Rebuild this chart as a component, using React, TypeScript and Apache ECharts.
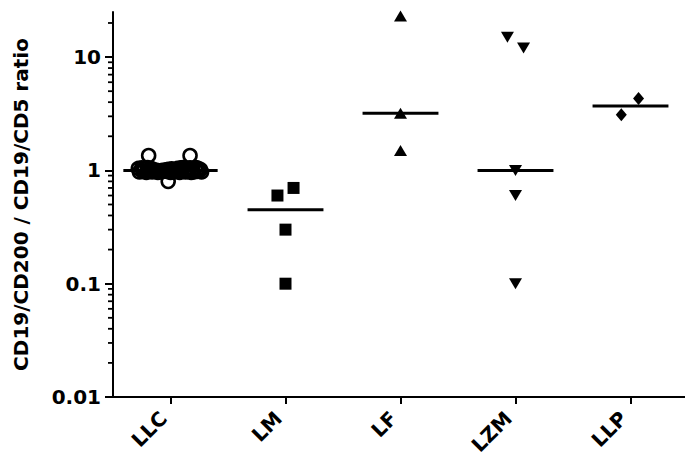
import React, { useEffect, useRef } from "react";
import * as echarts from "echarts";

const categories = ["LLC", "LM", "LF", "LZM", "LLP"];

// LLC group (values near 1, many overlapping open circles)
const llcValues = [
  1.04, 1.05, 1.03, 1.06, 1.04, 1.02, 1.0, 0.99, 1.0, 1.01, 1.02, 1.03, 1.0, 1.04, 1.05, 1.06, 1.04, 1.05, 1.03, 1.06, 1.04, 1.02,
  0.97, 0.98, 0.96, 0.99, 0.97, 0.98, 0.96, 0.97, 0.99, 0.98, 0.96, 0.97, 0.98, 0.96, 0.99, 0.97, 0.98, 0.96, 0.97, 0.98, 0.99, 0.97,
  1.35, 1.35, 0.8,
];
const llcJitter = [
  -0.28, -0.25, -0.23, -0.2, -0.17, -0.15, -0.12, -0.1, -0.07, -0.04, -0.02, 0.01, 0.03, 0.06, 0.09, 0.11, 0.14, 0.17, 0.19, 0.22, 0.24, 0.26,
  -0.27, -0.24, -0.21, -0.19, -0.16, -0.13, -0.11, -0.08, -0.05, -0.03, 0.0, 0.02, 0.05, 0.08, 0.1, 0.13, 0.15, 0.18, 0.2, 0.23, 0.25, 0.27,
  -0.19, 0.17, -0.02,
];

const lmValues = [0.6, 0.7, 0.3, 0.1];
const lmJitter = [-0.07, 0.07, 0, 0];

const lfValues = [23, 3.2, 1.5];
const lfJitter = [0, 0, 0];

const lzmValues = [15, 12, 1.0, 0.6, 0.1];
const lzmJitter = [-0.07, 0.07, 0, 0, 0];

const llpValues = [4.3, 3.1];
const llpJitter = [0.07, -0.08];

const medians = [1.0, 0.45, 3.2, 1.0, 3.7];
const medianHalfWidths = [0.41, 0.33, 0.33, 0.33, 0.33];

const yMajorTicks = [0.01, 0.1, 1, 10];
const yTickLabels = ["0.01", "0.1", "1", "10"];
const yMinorTicks = [
  0.02, 0.03, 0.04, 0.05, 0.06, 0.07, 0.08, 0.09,
  0.2, 0.3, 0.4, 0.5, 0.6, 0.7, 0.8, 0.9,
  2, 3, 4, 5, 6, 7, 8, 9, 20,
];
const xTickValues = [0, 1, 2, 3, 4];
const X_MIN = -0.5;
const X_MAX = 4.5;

const yTitle = "CD19/CD200 / CD19/CD5 ratio";

const FONT = "DejaVu Sans";

function toPoints(center: number, values: number[], jitter: number[]) {
  return values.map((v, i) => [center + jitter[i], v]);
}

export default function App() {
  const ref = useRef<HTMLDivElement>(null);
  useEffect(() => {
    if (!ref.current) return;
    const chart = echarts.init(ref.current, undefined, { renderer: "svg" });
    const groups = [
      { values: llcValues, jitter: llcJitter },
      { values: lmValues, jitter: lmJitter },
      { values: lfValues, jitter: lfJitter },
      { values: lzmValues, jitter: lzmJitter },
      { values: llpValues, jitter: llpJitter },
    ];
    const symbolStyles: any[] = [
      { symbol: "circle", symbolSize: 13, itemStyle: { color: "rgba(0,0,0,0)", borderColor: "#000", borderWidth: 2.6, opacity: 1 } },
      { symbol: "rect", symbolSize: 12, itemStyle: { color: "#000", opacity: 1 } },
      { symbol: "triangle", symbolSize: [13, 11], itemStyle: { color: "#000", opacity: 1 } },
      { symbol: "triangle", symbolSize: [13, 11], symbolRotate: 180, itemStyle: { color: "#000", opacity: 1 } },
      { symbol: "diamond", symbolSize: [11, 13], itemStyle: { color: "#000", opacity: 1 } },
    ];
    const scatterSeries = groups.map((g, i) => ({
      type: "scatter",
      name: categories[i],
      data: toPoints(i, g.values, g.jitter),
      ...symbolStyles[i],
      z: 3,
    }));
    const medianSeries = medians.map((m, i) => ({
      type: "line",
      data: [
        [i - medianHalfWidths[i], m],
        [i + medianHalfWidths[i], m],
      ],
      symbol: "none",
      lineStyle: { color: "#000", width: 3 },
      z: 4,
    }));
    // minor log ticks drawn as small rect markers just left of the y axis
    const minorTickSeries = {
      type: "scatter",
      clip: false,
      silent: true,
      z: 5,
      symbol: "rect",
      symbolSize: [5, 1.8],
      symbolOffset: [-2.5, 0],
      itemStyle: { color: "#000", opacity: 1 },
      data: yMinorTicks.map((v) => [X_MIN, v]),
    };
    const labelStyle = {
      fontFamily: FONT,
      fontWeight: "bold" as const,
      fontSize: 20,
      color: "#000",
    };
    chart.setOption({
      animation: false,
      grid: { left: 113, right: -3, top: 12, bottom: 60, containLabel: false, outerBoundsMode: "none" },
      xAxis: {
        type: "value",
        min: X_MIN,
        max: X_MAX,
        splitLine: { show: false },
        axisLine: { show: true, onZero: false, lineStyle: { color: "#000", width: 2 } },
        axisTick: { show: true, length: 7, lineStyle: { color: "#000", width: 2 }, customValues: xTickValues },
        axisLabel: {
          ...labelStyle,
          customValues: xTickValues,
          rotate: 45,
          margin: 25,
          verticalAlign: "bottom",
          formatter: (v: number) => categories[Math.round(v)] ?? "",
        },
      },
      yAxis: {
        type: "log",
        logBase: 10,
        min: 0.01,
        max: 25,
        position: "left",
        splitLine: { show: false },
        axisLine: { show: true, onZero: false, lineStyle: { color: "#000", width: 2 } },
        axisTick: { show: true, length: 8, lineStyle: { color: "#000", width: 2 }, customValues: yMajorTicks },
        axisLabel: {
          ...labelStyle,
          margin: 12,
          customValues: yMajorTicks,
          formatter: (v: number) => {
            const idx = yMajorTicks.findIndex((t) => Math.abs(Math.log10(t) - Math.log10(v)) < 1e-6);
            return idx >= 0 ? yTickLabels[idx] : "";
          },
        },
        name: yTitle,
        nameLocation: "middle",
        nameRotate: 90,
        nameGap: 82,
        nameTextStyle: { ...labelStyle },
      },
      series: [...medianSeries, ...scatterSeries, minorTickSeries],
    });
    return () => chart.dispose();
  }, []);
  return (
    <div
      ref={ref}
      style={{ position: "fixed", left: 0, top: 0, width: 685, height: 457, background: "#fff" }}
    />
  );
}
